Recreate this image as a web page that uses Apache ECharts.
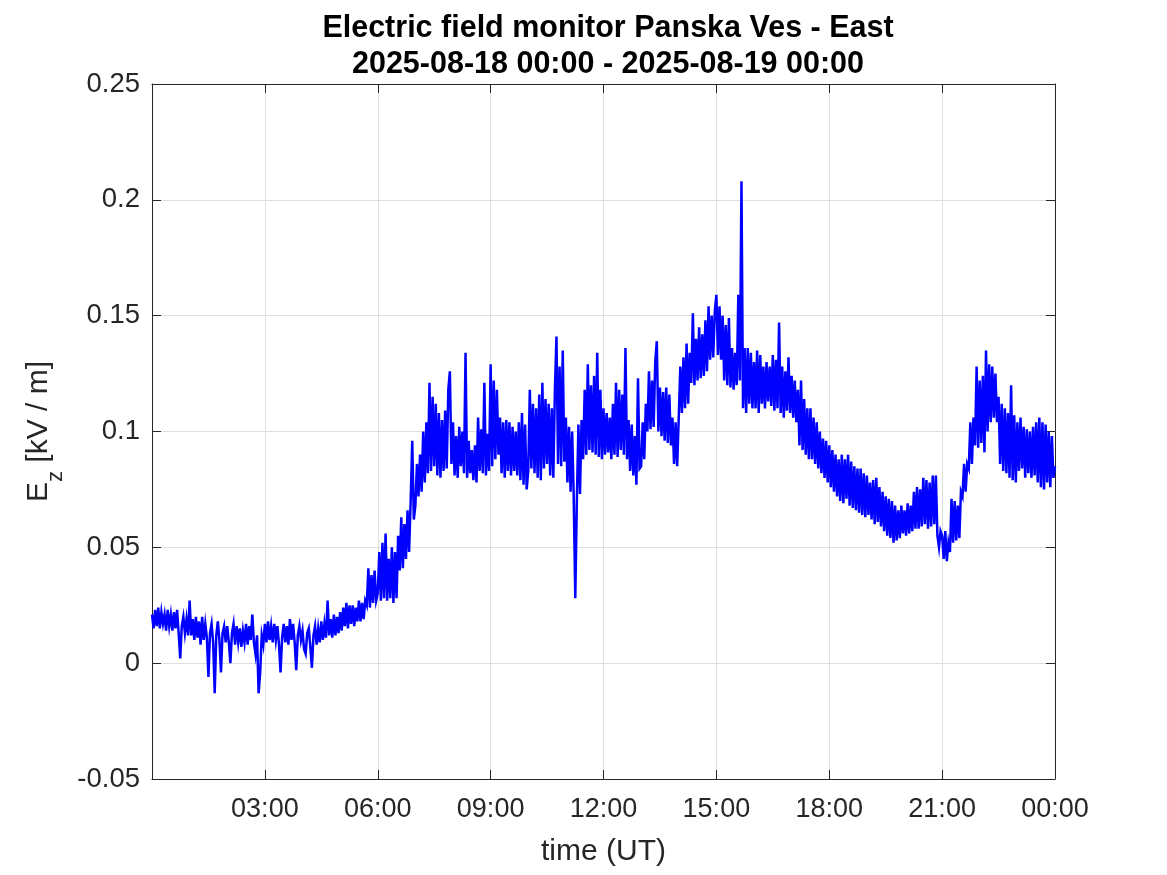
<!DOCTYPE html>
<html>
<head>
<meta charset="utf-8">
<script src="https://cdn.jsdelivr.net/npm/echarts@6/dist/echarts.min.js"></script>
<style>
  html, body { margin: 0; padding: 0; background: #fff; }
  #chart { width: 1167px; height: 875px; }
</style>
</head>
<body>
<div id="chart"></div>
<script>
// sampling: one value every 2.5 minutes from 2025-08-18 00:00 UT
const stepMinutes = 2.5
// Ez [kV/m], one row per hour
const ez = [
  0.021, 0.015, 0.023, 0.016, 0.024, 0.015, 0.022, 0.017, 0.021, 0.014, 0.023, 0.016, 0.021, 0.014, 0.022, 0.015, 0.023, 0.013, 0.002, 0.016, 0.020, 0.013, 0.019, 0.012,
  0.027, 0.012, 0.019, 0.010, 0.020, 0.011, 0.018, 0.008, 0.020, 0.010, 0.017, 0.011, -0.006, 0.013, 0.017, 0.009, -0.013, 0.012, 0.018, 0.010, -0.004, 0.013, 0.016, 0.009,
  0.016, 0.009, 0.000, 0.013, 0.017, 0.008, 0.016, 0.009, 0.015, 0.007, 0.014, 0.009, 0.017, 0.008, 0.016, 0.010, 0.021, 0.009, 0.004, 0.012, -0.013, -0.004, 0.012, 0.008,
  0.017, 0.009, 0.018, 0.010, 0.016, 0.009, 0.017, 0.010, 0.016, 0.008, -0.004, 0.011, 0.017, 0.009, 0.016, 0.008, 0.019, 0.010, 0.017, 0.009, -0.003, 0.012, 0.016, 0.010,
  0.014, 0.006, 0.004, 0.013, 0.015, 0.007, -0.002, 0.012, 0.016, 0.008, 0.015, 0.009, 0.018, 0.010, 0.017, 0.011, 0.027, 0.012, 0.019, 0.011, 0.021, 0.012, 0.020, 0.013,
  0.022, 0.014, 0.024, 0.016, 0.026, 0.015, 0.025, 0.017, 0.025, 0.016, 0.024, 0.018, 0.027, 0.018, 0.026, 0.019, 0.027, 0.025, 0.041, 0.024, 0.038, 0.026, 0.040, 0.027,
  0.030, 0.048, 0.027, 0.052, 0.028, 0.056, 0.027, 0.045, 0.028, 0.050, 0.026, 0.048, 0.028, 0.055, 0.040, 0.063, 0.041, 0.060, 0.045, 0.066, 0.048, 0.070, 0.096, 0.062,
  0.068, 0.086, 0.072, 0.090, 0.074, 0.100, 0.078, 0.104, 0.082, 0.121, 0.083, 0.115, 0.085, 0.112, 0.081, 0.108, 0.080, 0.105, 0.083, 0.109, 0.084, 0.118, 0.126, 0.086,
  0.104, 0.081, 0.098, 0.080, 0.102, 0.085, 0.100, 0.082, 0.134, 0.080, 0.096, 0.082, 0.092, 0.079, 0.094, 0.078, 0.106, 0.083, 0.101, 0.082, 0.121, 0.081, 0.099, 0.083,
  0.129, 0.085, 0.122, 0.088, 0.118, 0.090, 0.106, 0.082, 0.104, 0.080, 0.105, 0.083, 0.104, 0.081, 0.102, 0.083, 0.100, 0.081, 0.104, 0.079, 0.108, 0.077, 0.103, 0.075,
  0.083, 0.118, 0.084, 0.112, 0.082, 0.110, 0.080, 0.116, 0.079, 0.121, 0.084, 0.114, 0.086, 0.112, 0.081, 0.110, 0.080, 0.118, 0.141, 0.086, 0.128, 0.085, 0.135, 0.087,
  0.106, 0.078, 0.102, 0.074, 0.100, 0.072, 0.028, 0.070, 0.103, 0.073, 0.105, 0.088, 0.118, 0.090, 0.129, 0.092, 0.120, 0.091, 0.124, 0.090, 0.134, 0.089, 0.118, 0.088,
  0.110, 0.090, 0.108, 0.091, 0.106, 0.088, 0.112, 0.090, 0.121, 0.089, 0.118, 0.092, 0.116, 0.090, 0.136, 0.088, 0.105, 0.083, 0.103, 0.081, 0.098, 0.077, 0.123, 0.084,
  0.085, 0.104, 0.088, 0.112, 0.100, 0.126, 0.101, 0.122, 0.102, 0.130, 0.139, 0.100, 0.119, 0.098, 0.117, 0.096, 0.119, 0.095, 0.116, 0.094, 0.106, 0.086, 0.104, 0.085,
  0.106, 0.128, 0.108, 0.132, 0.110, 0.138, 0.112, 0.134, 0.121, 0.151, 0.120, 0.140, 0.122, 0.145, 0.123, 0.142, 0.124, 0.148, 0.126, 0.154, 0.131, 0.150, 0.132, 0.152,
  0.159, 0.133, 0.154, 0.131, 0.150, 0.122, 0.146, 0.120, 0.149, 0.119, 0.136, 0.118, 0.134, 0.120, 0.159, 0.122, 0.208, 0.110, 0.136, 0.108, 0.136, 0.112, 0.134, 0.110,
  0.130, 0.110, 0.135, 0.108, 0.133, 0.112, 0.128, 0.110, 0.130, 0.113, 0.128, 0.111, 0.133, 0.109, 0.131, 0.110, 0.147, 0.108, 0.128, 0.106, 0.126, 0.109, 0.132, 0.108,
  0.124, 0.106, 0.122, 0.104, 0.118, 0.094, 0.122, 0.092, 0.114, 0.090, 0.110, 0.088, 0.110, 0.088, 0.106, 0.086, 0.104, 0.084, 0.100, 0.082, 0.097, 0.080, 0.096, 0.078,
  0.094, 0.076, 0.092, 0.074, 0.090, 0.072, 0.088, 0.070, 0.090, 0.069, 0.088, 0.071, 0.090, 0.068, 0.087, 0.067, 0.085, 0.066, 0.084, 0.065, 0.084, 0.064, 0.082, 0.063,
  0.081, 0.064, 0.078, 0.062, 0.079, 0.060, 0.080, 0.061, 0.076, 0.059, 0.074, 0.057, 0.072, 0.055, 0.071, 0.054, 0.070, 0.052, 0.068, 0.053, 0.066, 0.054, 0.068, 0.056,
  0.066, 0.055, 0.069, 0.056, 0.068, 0.057, 0.074, 0.058, 0.076, 0.058, 0.075, 0.059, 0.080, 0.060, 0.079, 0.058, 0.078, 0.059, 0.081, 0.060, 0.081, 0.055, 0.050, 0.057,
  0.055, 0.045, 0.057, 0.044, 0.052, 0.048, 0.071, 0.052, 0.070, 0.053, 0.068, 0.054, 0.074, 0.072, 0.086, 0.074, 0.086, 0.084, 0.104, 0.086, 0.106, 0.094, 0.128, 0.093,
  0.122, 0.095, 0.124, 0.091, 0.135, 0.100, 0.129, 0.104, 0.128, 0.106, 0.125, 0.104, 0.115, 0.086, 0.112, 0.083, 0.110, 0.082, 0.108, 0.080, 0.120, 0.079, 0.107, 0.078,
  0.104, 0.083, 0.106, 0.084, 0.102, 0.080, 0.101, 0.082, 0.100, 0.080, 0.102, 0.081, 0.104, 0.078, 0.106, 0.076, 0.104, 0.075, 0.103, 0.078, 0.100, 0.076, 0.098, 0.080,
  0.085
]
const timeLabels = ['', '03:00', '06:00', '09:00', '12:00', '15:00', '18:00', '21:00', '00:00']
const ezLabels = ['-0.05', '0', '0.05', '0.1', '0.15', '0.2', '0.25']

const font = '"Liberation Sans", Arial, Helvetica, sans-serif'
const ink = '#262626'

// [hours since start, Ez]
const seriesData = ez.map((v, i) => [i * stepMinutes / 60, v])

const boxAxis = {
  axisLine: { show: true, onZero: false, lineStyle: { color: ink, width: 1 } },
  axisTick: { show: true, inside: true, length: 9, lineStyle: { color: ink, width: 1 } },
}

const option = {
  animation: false,
  backgroundColor: '#fff',
  title: {
    text: 'Electric field monitor Panska Ves - East\n2025-08-18 00:00 - 2025-08-19 00:00',
    left: 603,
    top: 6,
    textAlign: 'center',
    textStyle: { fontFamily: font, fontSize: 30.5, fontWeight: 'bold', color: '#000', lineHeight: 36 }
  },
  grid: { left: 152, right: 112, top: 84, bottom: 96, outerBoundsMode: 'none' },
  xAxis: [{
    type: 'value',
    min: 0,
    max: 24,
    interval: 3,
    position: 'bottom',
    ...boxAxis,
    axisLabel: {
      fontFamily: font, fontSize: 27, color: ink, margin: 17,
      formatter: v => timeLabels[Math.round(v / 3)]
    },
    splitLine: { show: true, lineStyle: { color: '#dedede', width: 1 } },
    name: 'time (UT)',
    nameLocation: 'middle',
    nameGap: 58,
    nameTextStyle: { fontFamily: font, fontSize: 30, color: ink }
  }, {
    type: 'value',
    min: 0,
    max: 24,
    interval: 3,
    position: 'top',
    ...boxAxis,
    axisLabel: { show: false },
    splitLine: { show: false }
  }],
  yAxis: [{
    type: 'value',
    min: -0.05,
    max: 0.25,
    interval: 0.05,
    position: 'left',
    ...boxAxis,
    axisLabel: {
      fontFamily: font, fontSize: 27.5, color: ink, margin: 12,
      formatter: v => ezLabels[Math.round((v + 0.05) / 0.05)]
    },
    splitLine: { show: true, lineStyle: { color: '#dedede', width: 1 } },
    name: '{e|E}{z|z}{e| [kV / m]}',
    nameLocation: 'middle',
    nameRotate: 90,
    nameGap: 81,
    nameMoveOverlap: false,
    nameTextStyle: {
      rich: {
        e: { fontFamily: font, fontSize: 30, color: ink, lineHeight: 30, padding: [0, 0, 34, 0] },
        z: { fontFamily: font, fontSize: 22, color: ink, lineHeight: 22, padding: [0, 0, 0, 0] }
      }
    }
  }, {
    type: 'value',
    min: -0.05,
    max: 0.25,
    interval: 0.05,
    position: 'right',
    ...boxAxis,
    axisLabel: { show: false },
    splitLine: { show: false }
  }],
  series: [{
    type: 'line',
    data: seriesData,
    showSymbol: false,
    symbol: 'none',
    sampling: null,
    lineStyle: { color: '#0000ff', width: 2.5, join: 'miter' },
    silent: true
  }]
}

const chart = echarts.init(document.getElementById('chart'))
chart.setOption(option)
window.onresize = function () {
  chart.resize()
}
</script>
</body>
</html>
